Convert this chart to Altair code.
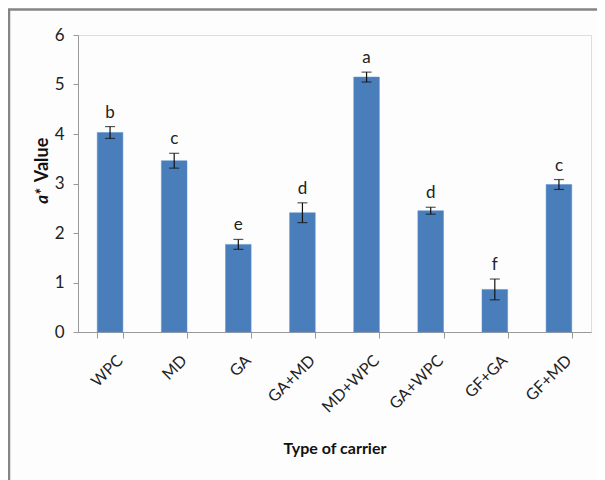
import altair as alt
import pandas as pd

carriers = ["WPC", "MD", "GA", "GA+MD", "MD+WPC", "GA+WPC", "GF+GA", "GF+MD"]
values = [4.03, 3.46, 1.77, 2.41, 5.15, 2.45, 0.86, 2.98]
errors = [0.12, 0.15, 0.10, 0.20, 0.10, 0.07, 0.21, 0.10]
letters = ["b", "c", "e", "d", "a", "d", "f", "c"]

df = pd.DataFrame({"carrier": carriers, "value": values, "err": errors, "letter": letters})
df["lo"] = df["value"] - df["err"]
df["hi"] = df["value"] + df["err"]

FONT = "Lato"
W, H = 513, 297

x = alt.X("carrier:N", sort=carriers, title="Type of carrier",
          scale=alt.Scale(paddingInner=0.6, paddingOuter=0.3),
          axis=alt.Axis(labelAngle=-45, labelFontSize=16,
                        labelFont=FONT, labelColor="#222", labelPadding=14, labelOffset=4,
                        domainColor="#999", tickColor="#999", tickSize=6, tickBand="extent",
                        titleFont=FONT, titleFontSize=16, titleFontWeight="bold",
                        titleColor="#111", titleY=116, titleBaseline="middle"))
y = alt.Y("value:Q", title=None,
          scale=alt.Scale(domain=[0, 6]),
          axis=alt.Axis(values=[0, 1, 2, 3, 4, 5, 6], grid=False, labelFontSize=17,
                        labelFont=FONT, labelColor="#222", labelPadding=9,
                        domainColor="#999", tickColor="#999", tickSize=5))

base = alt.Chart(df)
xc = alt.X("carrier:N", sort=carriers)

bars = base.mark_bar(color="#4a7ebb", stroke="#5b8fcc", strokeWidth=0.5).encode(x=x, y=y)
rules = base.mark_rule(color="#111", strokeWidth=1.2).encode(x=xc, y="lo:Q", y2="hi:Q")
caps_hi = base.mark_tick(color="#111", thickness=1.2, size=10, orient="horizontal").encode(
    x=xc, y="hi:Q")
caps_lo = base.mark_tick(color="#111", thickness=1.2, size=10, orient="horizontal").encode(
    x=xc, y="lo:Q")
labels = base.mark_text(font=FONT, fontSize=17, color="#222", dy=-9, baseline="alphabetic").encode(
    x=xc, y="hi:Q", text="letter:N")

ytitle_a = alt.Chart(pd.DataFrame({"t": ["a*"]})).mark_text(
    font=FONT, fontSize=17, fontWeight="bold", fontStyle="italic", angle=270,
    color="#111", align="center", baseline="middle").encode(
    x=alt.value(-35), y=alt.value(161), text="t:N")
ytitle_v = alt.Chart(pd.DataFrame({"t": ["Value"]})).mark_text(
    font=FONT, fontSize=18, fontWeight="bold", angle=270,
    color="#111", align="center", baseline="middle").encode(
    x=alt.value(-35), y=alt.value(125), text="t:N")

frame = pd.DataFrame({"d": [0]})
border_top = alt.Chart(frame).mark_rule(color="#858585", strokeWidth=2.5, clip=False).encode(
    x=alt.value(-70), x2=alt.value(540), y=alt.value(-25.5))
border_left = alt.Chart(frame).mark_rule(color="#858585", strokeWidth=2.5, clip=False).encode(
    x=alt.value(-69), y=alt.value(-26), y2=alt.value(450))

chart = alt.layer(bars, rules, caps_hi, caps_lo, labels, ytitle_a, ytitle_v,
                  border_top, border_left).properties(
    width=W, height=H,
    autosize=alt.AutoSizeParams(type="none"),
    padding={"left": 70, "top": 27, "right": 6, "bottom": 150},
).configure_view(stroke=None).configure(background="#fdfdfd")

chart.save("out.html", embed_options={"renderer": "svg", "actions": False})
